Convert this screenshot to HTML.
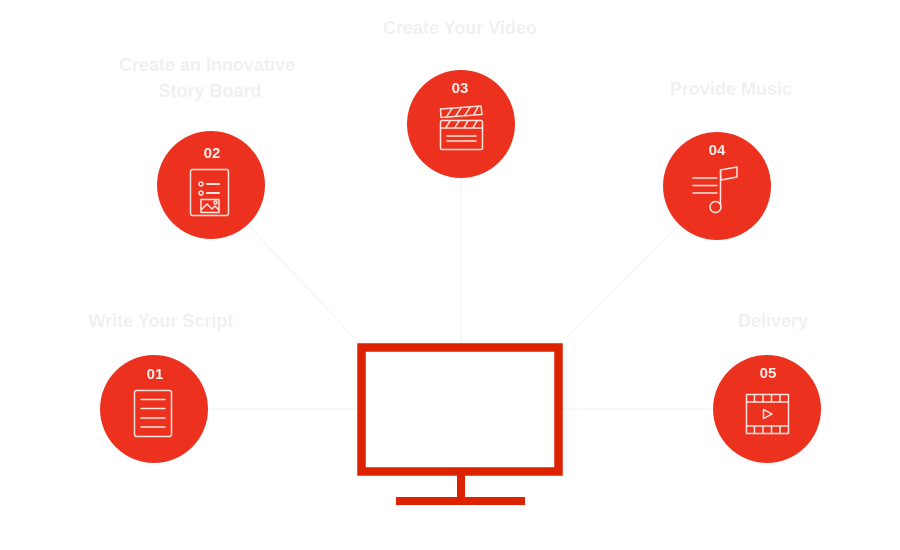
<!DOCTYPE html>
<html>
<head>
<meta charset="utf-8">
<style>
  html,body{margin:0;padding:0;background:#fff;}
  svg{display:block;}
  .lbl{font-family:"Liberation Sans",sans-serif;font-weight:bold;font-size:18px;fill:#f0f0f0;text-anchor:middle;}
  .num{font-family:"Liberation Sans",sans-serif;font-weight:bold;font-size:15px;fill:#fbeeea;text-anchor:middle;}
  .ic{fill:none;stroke:#fbe4de;stroke-width:1.5;stroke-linecap:round;stroke-linejoin:round;}
</style>
</head>
<body>
<svg width="900" height="550" viewBox="0 0 900 550" xmlns="http://www.w3.org/2000/svg">
  <rect width="900" height="550" fill="#fff"/>
  <!-- connectors -->
  <g stroke="#f4f4f4" stroke-width="1.2" fill="none">
    <line x1="154" y1="409" x2="357" y2="409"/>
    <line x1="211" y1="185" x2="357" y2="341"/>
    <line x1="461" y1="124" x2="461" y2="343"/>
    <line x1="717" y1="186" x2="563" y2="341"/>
    <line x1="767" y1="409" x2="563" y2="409"/>
  </g>

  <!-- labels -->
  <text class="lbl" x="161" y="327">Write Your Script</text>
  <text class="lbl" x="207" y="71">Create an Innovative</text>
  <text class="lbl" x="210" y="97">Story Board</text>
  <text class="lbl" x="460" y="34">Create Your Video</text>
  <text class="lbl" x="731" y="95">Provide Music</text>
  <text class="lbl" x="773" y="327">Delivery</text>

  <!-- monitor -->
  <g fill="none" stroke="#dd2200">
    <rect x="361.5" y="347.5" width="197" height="124" stroke-width="8.5"/>
    <line x1="461" y1="475" x2="461" y2="498" stroke-width="8"/>
    <line x1="396" y1="501" x2="525" y2="501" stroke-width="8"/>
  </g>

  <!-- circles -->
  <g fill="#ec321f">
    <circle cx="154" cy="409" r="54"/>
    <circle cx="211" cy="185" r="54"/>
    <circle cx="461" cy="124" r="54"/>
    <circle cx="717" cy="186" r="54"/>
    <circle cx="767" cy="409" r="54"/>
  </g>

  <!-- numbers -->
  <text class="num" x="155" y="379">01</text>
  <text class="num" x="212" y="158">02</text>
  <text class="num" x="460" y="93">03</text>
  <text class="num" x="717" y="155">04</text>
  <text class="num" x="768" y="378">05</text>

  <!-- icon 01: document -->
  <g class="ic">
    <rect x="134.5" y="390.5" width="37" height="46" rx="2"/>
    <line x1="141" y1="399.5" x2="165" y2="399.5"/>
    <line x1="141" y1="408.5" x2="165" y2="408.5"/>
    <line x1="141" y1="418" x2="165" y2="418"/>
    <line x1="141" y1="427" x2="165" y2="427"/>
  </g>

  <!-- icon 02: storyboard -->
  <g class="ic">
    <rect x="190.5" y="169.5" width="38" height="46" rx="2"/>
    <circle cx="201" cy="184" r="2"/>
    <circle cx="201" cy="193" r="2"/>
    <line x1="207" y1="184" x2="219" y2="184" stroke-width="2"/>
    <line x1="207" y1="193" x2="219" y2="193" stroke-width="2"/>
    <rect x="201" y="199.5" width="18" height="13"/>
    <polyline points="201,210 207,204 212,209 215,206 219,210"/>
    <circle cx="215.5" cy="202.5" r="1.5"/>
  </g>

  <!-- icon 03: clapperboard -->
  <g class="ic">
    <polygon points="440.5,109 481,106 482,114.5 441,117.5"/>
    <line x1="447" y1="116" x2="452" y2="108.5"/>
    <line x1="456" y1="115.5" x2="461" y2="108"/>
    <line x1="465" y1="115" x2="470" y2="107.5"/>
    <line x1="474" y1="114.5" x2="478" y2="107"/>
    <rect x="440.5" y="120.5" width="42" height="29" rx="1.5"/>
    <line x1="440.5" y1="128" x2="482.5" y2="128"/>
    <line x1="446" y1="127.5" x2="450" y2="121"/>
    <line x1="455" y1="127.5" x2="459" y2="121"/>
    <line x1="464" y1="127.5" x2="468" y2="121"/>
    <line x1="473" y1="127.5" x2="477" y2="121"/>
    <line x1="447" y1="136" x2="476" y2="136"/>
    <line x1="447" y1="141" x2="476" y2="141"/>
  </g>

  <!-- icon 04: music -->
  <g class="ic">
    <line x1="693" y1="178" x2="717" y2="178"/>
    <line x1="693" y1="185.5" x2="717" y2="185.5"/>
    <line x1="693" y1="193" x2="717" y2="193"/>
    <line x1="720.5" y1="170" x2="720.5" y2="204"/>
    <polygon points="720.5,170 737,167 737,177 721,180"/>
    <circle cx="715.5" cy="207" r="5.5"/>
  </g>

  <!-- icon 05: film -->
  <g class="ic">
    <rect x="746.5" y="394.5" width="42" height="39"/>
    <line x1="746.5" y1="402" x2="788.5" y2="402"/>
    <line x1="746.5" y1="426" x2="788.5" y2="426"/>
    <line x1="754.5" y1="394.5" x2="754.5" y2="402"/>
    <line x1="763" y1="394.5" x2="763" y2="402"/>
    <line x1="771.5" y1="394.5" x2="771.5" y2="402"/>
    <line x1="780" y1="394.5" x2="780" y2="402"/>
    <line x1="754.5" y1="426" x2="754.5" y2="433.5"/>
    <line x1="763" y1="426" x2="763" y2="433.5"/>
    <line x1="771.5" y1="426" x2="771.5" y2="433.5"/>
    <line x1="780" y1="426" x2="780" y2="433.5"/>
    <polygon points="763.5,409.5 772,414 763.5,418.5"/>
  </g>
</svg>
</body>
</html>
